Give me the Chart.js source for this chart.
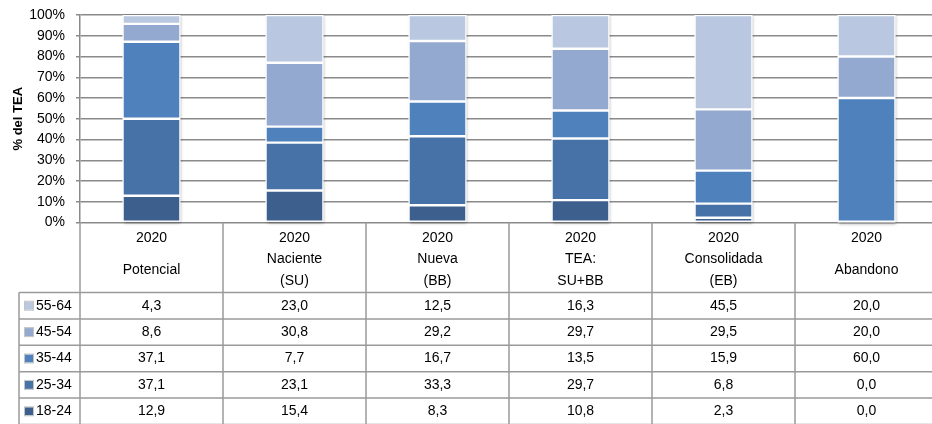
<!DOCTYPE html>
<html>
<head>
<meta charset="utf-8">
<script src="https://cdn.jsdelivr.net/npm/chart.js@4"></script>
<style>
html,body{margin:0;padding:0;background:#fff;overflow:hidden;width:932px;height:424px;}
canvas{display:block;}
</style>
</head>
<body>
<canvas id="c" width="940" height="424" style="width:940px;height:424px"></canvas>
<script>
// ---- data ----
const years = ['2020','2020','2020','2020','2020','2020'];
const categoryNames = [['Potencial'],['Naciente','(SU)'],['Nueva','(BB)'],['TEA:','SU+BB'],['Consolidada','(EB)'],['Abandono']];
const seriesNames = ['18-24','25-34','35-44','45-54','55-64'];
const age1824 = [12.9, 15.4, 8.3, 10.8, 2.3, 0.0];
const age2534 = [37.1, 23.1, 33.3, 29.7, 6.8, 0.0];
const age3544 = [37.1, 7.7, 16.7, 13.5, 15.9, 60.0];
const age4554 = [8.6, 30.8, 29.2, 29.7, 29.5, 20.0];
const age5564 = [4.3, 23.0, 12.5, 16.3, 45.5, 20.0];
const yTicks = [0,10,20,30,40,50,60,70,80,90,100];

const colors = ['#3C5F8E','#4672A8','#4F81BD','#94A9D0','#BAC7E1'];
const seriesValues = [age1824, age2534, age3544, age4554, age5564];
const FONT = "'Liberation Sans', Arial, sans-serif";

const fmt = v => v.toFixed(1).replace('.', ',');

const shadowPlugin = {
  id: 'stackShadow',
  beforeDatasetsDraw(chart) {
    const ctx = chart.ctx;
    const n = chart.data.labels.length;
    for (let i = 0; i < n; i++) {
      let top = Infinity, bottom = -Infinity, x = 0, w = 0;
      chart.data.datasets.forEach((ds, d) => {
        const el = chart.getDatasetMeta(d).data[i];
        if (!el) return;
        const p = el.getProps(['x','y','base','width'], true);
        top = Math.min(top, p.y, p.base);
        bottom = Math.max(bottom, p.y, p.base);
        x = p.x; w = p.width;
      });
      ctx.save();
      ctx.shadowColor = 'rgba(0,0,0,0.35)';
      ctx.shadowBlur = 3;
      ctx.shadowOffsetX = 1;
      ctx.shadowOffsetY = 1;
      ctx.fillStyle = '#fff';
      ctx.fillRect(x - w/2, top, w, bottom - top);
      ctx.restore();
    }
  }
};

const tablePlugin = {
  id: 'dataTable',
  afterDraw(chart) {
    const ctx = chart.ctx;
    const xs = chart.scales.x;
    const n = chart.data.labels.length;
    const colW = (xs.right - xs.left) / n;
    const top = chart.chartArea.bottom;
    const headerH = 70;
    const rowH = 26.4;
    const legendLeft = 19;
    const rowsTop = top + headerH;
    const nRows = seriesNames.length;
    ctx.save();
    ctx.strokeStyle = '#9a9a9a';
    ctx.lineWidth = 1.5;
    for (let i = 0; i <= n; i++) {
      const x = xs.left + i * colW;
      ctx.beginPath();
      ctx.moveTo(x, top);
      ctx.lineTo(x, rowsTop + nRows * rowH + 2);
      ctx.stroke();
    }
    ctx.beginPath();
    ctx.moveTo(legendLeft, rowsTop);
    ctx.lineTo(legendLeft, rowsTop + nRows * rowH + 2);
    ctx.stroke();
    for (let r = 0; r <= nRows; r++) {
      const y = rowsTop + r * rowH;
      ctx.beginPath();
      ctx.moveTo(legendLeft, y);
      ctx.lineTo(xs.right, y);
      ctx.stroke();
    }
    ctx.fillStyle = '#000';
    ctx.font = '14px ' + FONT;
    ctx.textAlign = 'center';
    ctx.textBaseline = 'middle';
    for (let i = 0; i < n; i++) {
      const cx = xs.getPixelForValue(i);
      ctx.fillText(years[i], cx, top + 16);
      const lines = categoryNames[i];
      if (lines.length === 1) {
        ctx.fillText(lines[0], cx, top + 48);
      } else {
        ctx.fillText(lines[0], cx, top + 37);
        ctx.fillText(lines[1], cx, top + 59);
      }
    }
    for (let r = 0; r < nRows; r++) {
      const s = nRows - 1 - r;
      const cy = rowsTop + r * rowH + rowH / 2;
      ctx.fillStyle = colors[s];
      ctx.fillRect(legendLeft + 6, cy - 4, 8, 8);
      ctx.strokeStyle = '#c4c4c4';
      ctx.lineWidth = 1;
      ctx.strokeRect(legendLeft + 5.5, cy - 4.5, 9, 9);
      ctx.fillStyle = '#000';
      ctx.textAlign = 'left';
      ctx.fillText(seriesNames[s], legendLeft + 17, cy);
      ctx.textAlign = 'center';
      for (let i = 0; i < n; i++) {
        ctx.fillText(fmt(seriesValues[s][i]), xs.getPixelForValue(i), cy);
      }
    }
    ctx.restore();
  }
};

new Chart(document.getElementById('c'), {
  type: 'bar',
  data: {
    labels: categoryNames.map(l => l.join(' ')),
    datasets: seriesNames.map((name, d) => ({
      label: name,
      data: seriesValues[d],
      backgroundColor: colors[d],
      borderColor: '#ffffff',
      borderWidth: 1.2,
      borderSkipped: false,
      barPercentage: 0.405,
      categoryPercentage: 1.0
    }))
  },
  options: {
    responsive: false,
    animation: false,
    devicePixelRatio: 1,
    layout: { padding: { top: 15, bottom: 201.5, left: 0, right: 2 } },
    plugins: { legend: { display: false }, tooltip: { enabled: false } },
    scales: {
      x: { stacked: true, display: false },
      y: {
        stacked: true,
        min: 0, max: 100,
        afterFit(scale) { scale.width = 80; },
        afterBuildTicks(scale) { scale.ticks = yTicks.map(v => ({ value: v })); },
        ticks: {
          callback: v => v + '%',
          color: '#000',
          font: { family: FONT, size: 14, lineHeight: 0.5 },
          padding: 11
        },
        grid: { color: '#8a8a8a', lineWidth: 1.5, tickLength: 4, drawTicks: true },
        border: { display: true, color: '#8a8a8a', width: 1.5 },
        title: {
          display: true,
          text: '% del TEA',
          color: '#000',
          font: { family: FONT, size: 13, weight: 'bold' },
          padding: { top: 11, bottom: 0 }
        }
      }
    }
  },
  plugins: [shadowPlugin, tablePlugin]
});
</script>
</body>
</html>
